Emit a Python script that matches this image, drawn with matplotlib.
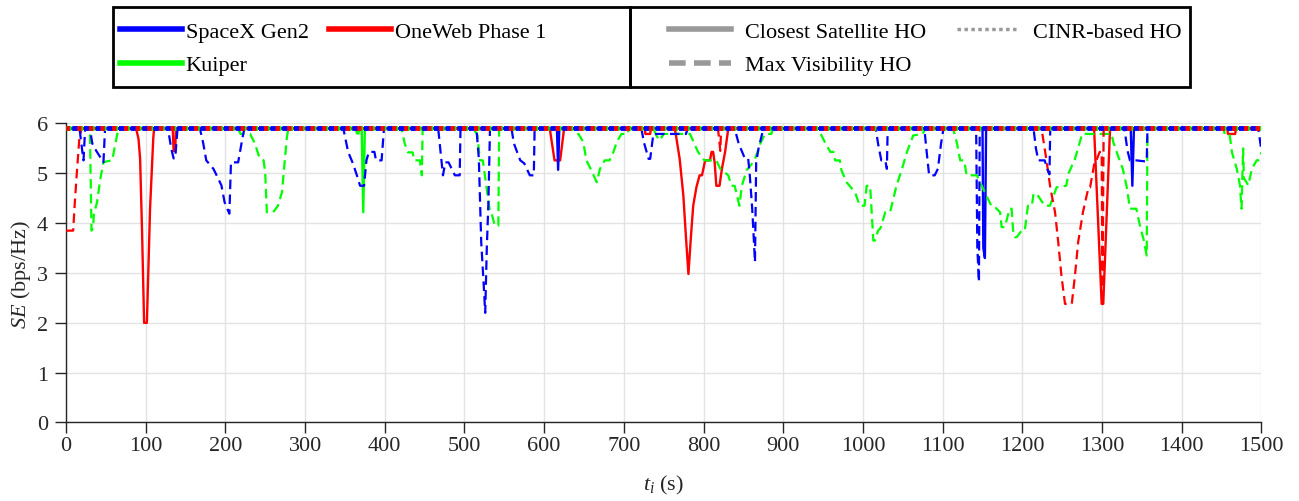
import matplotlib
matplotlib.use("Agg")
import matplotlib.pyplot as plt
from matplotlib.lines import Line2D
from matplotlib.patches import Rectangle

plt.rcParams['font.family'] = ['Liberation Serif', 'DejaVu Serif']
plt.rcParams['mathtext.fontset'] = 'custom'
plt.rcParams['mathtext.rm'] = 'Liberation Serif'
plt.rcParams['mathtext.it'] = 'Liberation Serif:italic'

# ---------------- data ----------------
constellations = ["SpaceX Gen2", "OneWeb Phase 1", "Kuiper"]
ho_schemes = ["Closest Satellite HO", "Max Visibility HO", "CINR-based HO"]
x_ticks = [0, 100, 200, 300, 400, 500, 600, 700, 800, 900, 1000, 1100, 1200, 1300, 1400, 1500]
y_ticks = [0, 1, 2, 3, 4, 5, 6]

# SpaceX Gen2 - Closest satellite HO
spx_closest_t = [0, 616, 617.5, 619, 1150, 1151, 1153, 1154.5, 1336, 1338, 1340, 1500]
spx_closest_v = [5.9, 5.9, 5.07, 5.9, 5.9, 3.5, 3.3, 5.9, 5.9, 4.75, 5.9, 5.9]

# SpaceX Gen2 - Max visibility HO
spx_maxvis_t = [0, 17, 20, 22, 24, 30, 33, 38, 44, 47, 49,
                128, 132, 135, 137, 140,
                168, 172, 176, 185, 189, 195, 199, 205, 207, 216, 222, 224,
                348, 354, 360, 365, 369, 374, 377, 380, 387, 389, 396, 399,
                467, 473, 476, 480, 488, 494, 495,
                515, 518, 521, 524, 526, 528, 530, 532,
                559, 562, 570, 575, 582, 587, 588,
                722, 725, 731, 733, 737, 778, 780,
                839, 844, 852, 856, 858, 861, 864.5, 866, 869, 874, 878,
                1016, 1019, 1023, 1028, 1030, 1031,
                1077, 1080, 1083, 1090, 1094, 1098, 1101,
                1142, 1143.5, 1145.5, 1146.5,
                1214, 1217, 1220, 1228, 1231, 1234, 1235,
                1328, 1332, 1335, 1343, 1354, 1356, 1357,
                1496, 1500]
spx_maxvis_v = [5.9, 5.9, 5.5, 5.26, 5.9, 5.9, 5.6, 5.45, 5.3, 5.22, 5.9,
                5.9, 5.5, 5.3, 5.3, 5.9,
                5.9, 5.62, 5.26, 5.09, 4.96, 4.76, 4.42, 4.19, 5.22, 5.22, 5.76, 5.9,
                5.9, 5.43, 5.2, 4.96, 4.75, 4.75, 5.26, 5.43, 5.43, 5.26, 5.26, 5.9,
                5.9, 4.96, 5.22, 5.22, 4.96, 4.96, 5.9,
                5.9, 5.3, 3.62, 2.8, 2.2, 3.5, 4.4, 5.9,
                5.9, 5.6, 5.26, 5.2, 4.96, 4.96, 5.9,
                5.9, 5.63, 5.29, 5.29, 5.79, 5.79, 5.9,
                5.9, 5.6, 5.29, 5.29, 4.96, 4.3, 3.22, 5.22, 5.5, 5.83, 5.9,
                5.9, 5.59, 5.26, 5.26, 5.09, 5.9,
                5.9, 5.42, 4.96, 4.96, 5.09, 5.6, 5.9,
                5.9, 3.5, 2.82, 5.9,
                5.9, 5.5, 5.26, 5.26, 5.1, 4.98, 5.9,
                5.9, 5.45, 5.26, 5.26, 5.24, 5.24, 5.9,
                5.9, 5.45]

# SpaceX Gen2 - CINR-based HO
spx_cinr_t = [0, 1500]
spx_cinr_v = [5.9, 5.9]

# OneWeb Phase 1 - Closest satellite HO
ow_closest_t = [0, 88, 91, 93, 95.5, 98, 101.5, 105.5, 109.5, 110.5,
                134, 135, 137, 138,
                607, 613, 620, 625,
                726, 727, 733, 734,
                764, 770, 774.6, 778, 781, 784, 787, 791, 795, 798, 802, 808, 810, 812, 814, 816, 820, 823, 827, 831,
                1290, 1299.5, 1301.5, 1310,
                1457, 1458, 1467, 1468, 1500]
ow_closest_v = [5.9, 5.9, 5.69, 5.29, 3.8, 2.0, 2.0, 4.3, 5.7, 5.9,
                5.9, 5.45, 5.45, 5.9,
                5.9, 5.26, 5.26, 5.9,
                5.9, 5.79, 5.79, 5.9,
                5.9, 5.29, 4.56, 3.69, 2.98, 3.7, 4.35, 4.72, 4.96, 4.96, 5.26, 5.26, 5.43, 5.43, 5.2, 4.75, 4.75, 5.09, 5.43, 5.9,
                5.9, 2.38, 2.38, 5.9,
                5.9, 5.79, 5.79, 5.9, 5.9]

# OneWeb Phase 1 - Max visibility HO
ow_maxvis_t = [0, 9, 11, 14, 17, 20,
               818, 819, 821, 822,
               1224, 1226, 1230, 1235, 1241, 1245, 1249, 1253.5, 1262, 1266, 1270, 1276, 1283, 1285,
               1291, 1293, 1297, 1299.5, 1300.5, 1302, 1500]
ow_maxvis_v = [3.85, 3.85, 4.4, 5.1, 5.75, 5.9,
               5.9, 5.76, 5.45, 5.9,
               5.9, 5.7, 5.29, 4.72, 4.22, 3.62, 2.95, 2.38, 2.38, 2.95, 3.62, 4.22, 4.72, 4.72,
               5.26, 5.26, 5.43, 5.43, 2.4, 5.9, 5.9]

# OneWeb Phase 1 - CINR-based HO
ow_cinr_t = [0, 1500]
ow_cinr_v = [5.9, 5.9]

# Kuiper - Closest satellite HO
ku_closest_t = [0, 364, 365, 367, 368, 371, 373, 375, 1500]
ku_closest_v = [5.9, 5.9, 5.8, 5.8, 5.9, 5.9, 4.22, 5.9, 5.9]

# Kuiper - Max visibility HO
ku_maxvis_t = [0, 30, 32, 34, 35, 39, 43, 47, 51, 58, 64, 66,
               216, 219, 231, 237, 243, 248, 250, 252, 260, 266, 271, 277, 279,
               421, 425, 429, 435, 437, 444, 446.5, 447.5,
               511, 516, 519.5, 523, 528, 532, 534, 538, 542.5, 543.5,
               636, 640, 643, 649, 653, 658, 662, 666, 670, 676, 682, 687, 691, 697, 705, 706,
               737, 741, 745, 750, 783, 793, 801, 816, 821, 831, 835, 839, 845, 848, 854, 864, 871, 877, 885, 887,
               942, 947, 952, 959, 963, 965, 971, 973, 979.5, 990, 996, 1002, 1004.6, 1009, 1013, 1015, 1019,
               1022, 1028, 1034, 1042, 1049, 1055, 1063, 1075, 1078,
               1113, 1118, 1122, 1127, 1130, 1143, 1149, 1161, 1164, 1172, 1174, 1178, 1184, 1186.5, 1188.6,
               1190.7, 1193, 1199, 1203, 1207, 1212, 1214, 1218, 1228, 1234.6, 1243, 1255, 1258, 1266, 1275,
               1312, 1314, 1322, 1326, 1331, 1335, 1343, 1347.5, 1352, 1356, 1357,
               1452, 1454, 1460, 1463, 1469, 1473, 1475, 1477, 1478, 1483.5, 1488, 1494, 1496, 1500]
ku_maxvis_v = [5.9, 5.9, 3.85, 3.9, 4.19, 4.42, 4.88, 5.22, 5.24, 5.26, 5.76, 5.9,
               5.9, 5.79, 5.79, 5.6, 5.3, 5.26, 5.0, 4.22, 4.22, 4.35, 4.62, 5.7, 5.9,
               5.9, 5.6, 5.42, 5.42, 5.26, 5.26, 4.96, 5.9,
               5.9, 5.78, 5.26, 5.26, 4.69, 4.22, 4.2, 3.95, 3.95, 5.9,
               5.9, 5.79, 5.79, 5.63, 5.26, 5.1, 4.96, 4.82, 5.09, 5.26, 5.26, 5.43, 5.63, 5.79, 5.79, 5.9,
               5.9, 5.75, 5.66, 5.79, 5.79, 5.43, 5.26, 5.26, 5.09, 4.96, 4.75, 4.75, 4.35, 4.75, 5.06, 5.26, 5.59, 5.79, 5.79, 5.9,
               5.9, 5.79, 5.63, 5.43, 5.43, 5.26, 5.26, 5.06, 4.82, 4.62, 4.35, 4.35, 4.75, 4.75, 3.65, 3.65, 3.85,
               3.9, 4.22, 4.22, 4.75, 5.09, 5.42, 5.76, 5.79, 5.9,
               5.9, 5.6, 5.26, 5.26, 4.96, 4.96, 4.75, 4.35, 4.35, 4.22, 3.92, 3.92, 4.29, 4.29, 3.8,
               3.72, 3.72, 3.85, 3.85, 4.35, 4.35, 4.59, 4.59, 4.35, 4.35, 4.72, 4.75, 5.0, 5.29, 5.79,
               5.79, 5.63, 5.26, 5.09, 4.72, 4.29, 4.29, 3.95, 3.68, 3.35, 5.9,
               5.9, 5.79, 5.79, 5.42, 5.09, 4.76, 4.29, 5.5, 4.9, 4.76, 5.09, 5.26, 5.26, 5.42]

# Kuiper - CINR-based HO
ku_cinr_t = [0, 1500]
ku_cinr_v = [5.9, 5.9]

# ---------------- styling ----------------
BLUE, RED, GREEN = (0, 0, 1), (1, 0, 0), (0, 1, 0)
GRAY = (0.6, 0.6, 0.6)
FS = 16
SOLID = '-'
DASHED = (0, (4.3, 2.4))
DOTTED = (0, (1.0, 1.4))

fig = plt.figure(figsize=(12.99, 5.02), dpi=100)
ax = fig.add_axes([0.0508, 0.1564, 0.9203, 0.5956])

# closest (solid)
ax.plot(ku_closest_t, ku_closest_v, color=GREEN, ls=SOLID, lw=1.7, zorder=3)
ax.plot(ow_closest_t, ow_closest_v, color=RED, ls=SOLID, lw=1.7, zorder=3)
ax.plot(spx_closest_t, spx_closest_v, color=BLUE, ls=SOLID, lw=1.7, zorder=3)
# max visibility (dashed)
ax.plot(ku_maxvis_t, ku_maxvis_v, color=GREEN, ls=DASHED, lw=1.6, zorder=4)
ax.plot(ow_maxvis_t, ow_maxvis_v, color=RED, ls=DASHED, lw=1.6, zorder=4)
ax.plot(spx_maxvis_t, spx_maxvis_v, color=BLUE, ls=DASHED, lw=1.6, zorder=4)
# CINR-based (dotted)
ax.plot(ku_cinr_t, ku_cinr_v, color=GREEN, ls=DOTTED, lw=3.5, zorder=5)
ax.plot(ow_cinr_t, ow_cinr_v, color=RED, ls=(0.3, (1.0, 1.4)), lw=3.5, zorder=5)
ax.plot(spx_cinr_t, spx_cinr_v, color=BLUE, ls=(1.2, (1.0, 1.4)), lw=3.5, zorder=6)

ax.set_xlim(0, 1500)
ax.set_ylim(0, 6)
ax.set_xticks(x_ticks)
ax.set_yticks(y_ticks)
ax.grid(True, color='#e3e3e3', lw=1.0)
ax.set_axisbelow(True)
for s in ['top', 'right']:
    ax.spines[s].set_visible(False)
for s in ['left', 'bottom']:
    ax.spines[s].set_color('#262626')
    ax.spines[s].set_linewidth(1.0)
ax.tick_params(axis='both', direction='out', length=8, width=1.0, colors='#262626',
               labelsize=FS, labelcolor='#262626')
ax.tick_params(axis='x', pad=2)
ax.tick_params(axis='y', pad=5)
ax.set_xlabel(r'$t_i$ (s)', fontsize=FS, color='#262626', labelpad=13)
ax.set_ylabel(r'$SE$ (bps/Hz)', fontsize=FS, color='#262626', labelpad=3)

# ---------------- legends ----------------
W, H = 1299.0, 502.0
fig.add_artist(Rectangle((113 / W, 1 - 88 / H), (630 - 113) / W, 80 / H, transform=fig.transFigure,
                         fill=False, ec='black', lw=2.0))
fig.add_artist(Rectangle((630 / W, 1 - 88 / H), (1190 - 630) / W, 80 / H, transform=fig.transFigure,
                         fill=False, ec='black', lw=2.0))

h_spx = Line2D([], [], color=BLUE, lw=4)
h_ow = Line2D([], [], color=RED, lw=4)
h_ku = Line2D([], [], color=GREEN, lw=4)
leg1 = fig.legend([h_spx, h_ku, h_ow], [constellations[0], constellations[2], constellations[1]],
                  ncol=2, loc='upper left', bbox_to_anchor=(120 / W, 1 - 22 / H),
                  frameon=False, fontsize=FS, handlelength=2.8, handletextpad=0.15,
                  columnspacing=0.92, labelspacing=0.6, borderpad=0, borderaxespad=0)

h_cl = Line2D([], [], color=GRAY, lw=4, ls='-')
h_mv = Line2D([], [], color=GRAY, lw=4, ls=(0, (3.0, 1.5)))
h_ci = Line2D([], [], color=GRAY, lw=2.5, ls=(0, (1.0, 1.0)))
leg2 = fig.legend([h_cl, h_mv, h_ci], [ho_schemes[0], ho_schemes[1], ho_schemes[2]],
                  ncol=2, loc='upper left', bbox_to_anchor=(669 / W, 1 - 22 / H),
                  frameon=False, fontsize=FS, handlelength=2.8, handletextpad=0.62,
                  columnspacing=1.4, labelspacing=0.6, borderpad=0, borderaxespad=0)

fig.savefig('out.png', dpi=100)
